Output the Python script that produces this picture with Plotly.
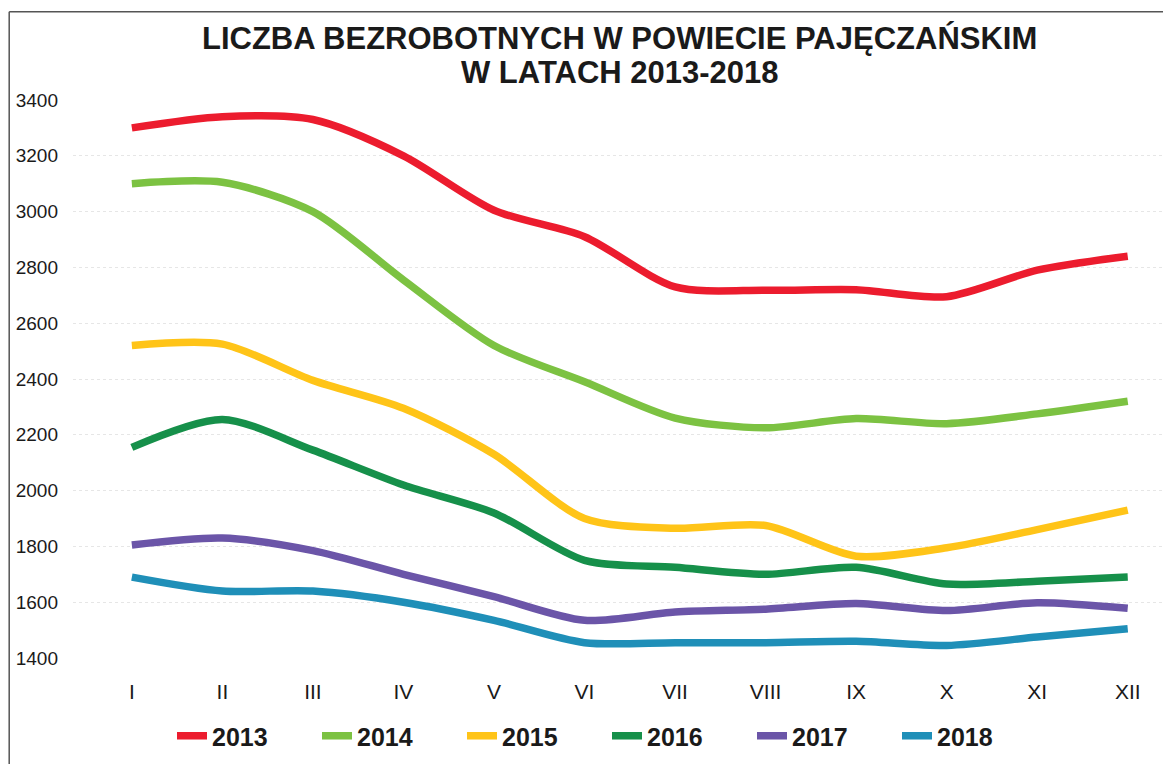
import plotly.graph_objects as go

months = ["I", "II", "III", "IV", "V", "VI", "VII", "VIII", "IX", "X", "XI", "XII"]
years = ["2013", "2014", "2015", "2016", "2017", "2018"]

v2013 = [3300, 3340, 3330, 3200, 3005, 2910, 2730, 2718, 2720, 2695, 2790, 2840]
v2014 = [3100, 3105, 3000, 2755, 2520, 2390, 2260, 2225, 2258, 2240, 2275, 2320]
v2015 = [2520, 2525, 2395, 2295, 2130, 1900, 1865, 1875, 1765, 1795, 1860, 1930]
v2016 = [2155, 2255, 2145, 2020, 1920, 1750, 1725, 1700, 1725, 1665, 1675, 1690]
v2017 = [1805, 1830, 1785, 1700, 1620, 1535, 1565, 1575, 1595, 1570, 1598, 1578]
v2018 = [1690, 1640, 1640, 1600, 1535, 1455, 1455, 1455, 1460, 1445, 1475, 1505]

series = [v2013, v2014, v2015, v2016, v2017, v2018]
colors = ["#ec1c2e", "#7cc242", "#ffc418", "#16904a", "#6b55a8", "#1f8fb8"]
title_lines = ["LICZBA BEZROBOTNYCH W POWIECIE PAJĘCZAŃSKIM", "W LATACH 2013-2018"]

fig = go.Figure()
x = list(range(len(months)))
for name, vals, col in zip(years, series, colors):
    fig.add_trace(go.Scatter(
        x=x, y=vals, name=name, mode="lines",
        line=dict(color=col, width=7.5, shape="spline", smoothing=0.8),
    ))

fig.update_layout(
    width=1171, height=764,
    paper_bgcolor="white", plot_bgcolor="white",
    margin=dict(l=65, r=6, t=92, b=114),
    font=dict(family="Liberation Sans, Arial", color="#1a1a1a"),
    showlegend=True,
    legend=dict(
        orientation="h", x=0.09, xanchor="left", y=-0.0986, yanchor="top",
        font=dict(size=25, color="#1a1a1a", weight="bold"),
        entrywidth=100, entrywidthmode="pixels", tracegroupgap=0,
    ),
)
for txt, yy in zip(title_lines, [1.111, 1.050]):
    fig.add_annotation(
        text=txt, xref="paper", yref="paper", x=0.497, y=yy,
        xanchor="center", yanchor="middle", showarrow=False,
        font=dict(family="Liberation Sans, Arial", size=31, color="#1a1a1a", weight="bold"),
    )
fig.update_xaxes(
    tickmode="array", tickvals=x, ticktext=months,
    range=[-0.65, 11.5], showgrid=False, zeroline=False, showline=False,
    ticks="", tickfont=dict(size=21, color="#1a1a1a"), ticklabelstandoff=19,
)
fig.update_yaxes(
    range=[1400, 3400], tickvals=list(range(1400, 3401, 200)),
    showgrid=True, gridcolor="#e6e6e6", gridwidth=1, griddash="dot",
    zeroline=False, showline=False, ticks="",
    tickfont=dict(size=19, color="#1a1a1a"), ticklabelstandoff=14,
)
fig.add_shape(type="line", xref="paper", yref="paper", x0=-0.058, x1=-0.058, y0=-0.21, y1=1.158,
              line=dict(color="#555555", width=1.5))
fig.add_shape(type="line", xref="paper", yref="paper", x0=-0.058, x1=1.01, y0=1.158, y1=1.158,
              line=dict(color="#555555", width=1.5))

fig.write_html("out.html")
